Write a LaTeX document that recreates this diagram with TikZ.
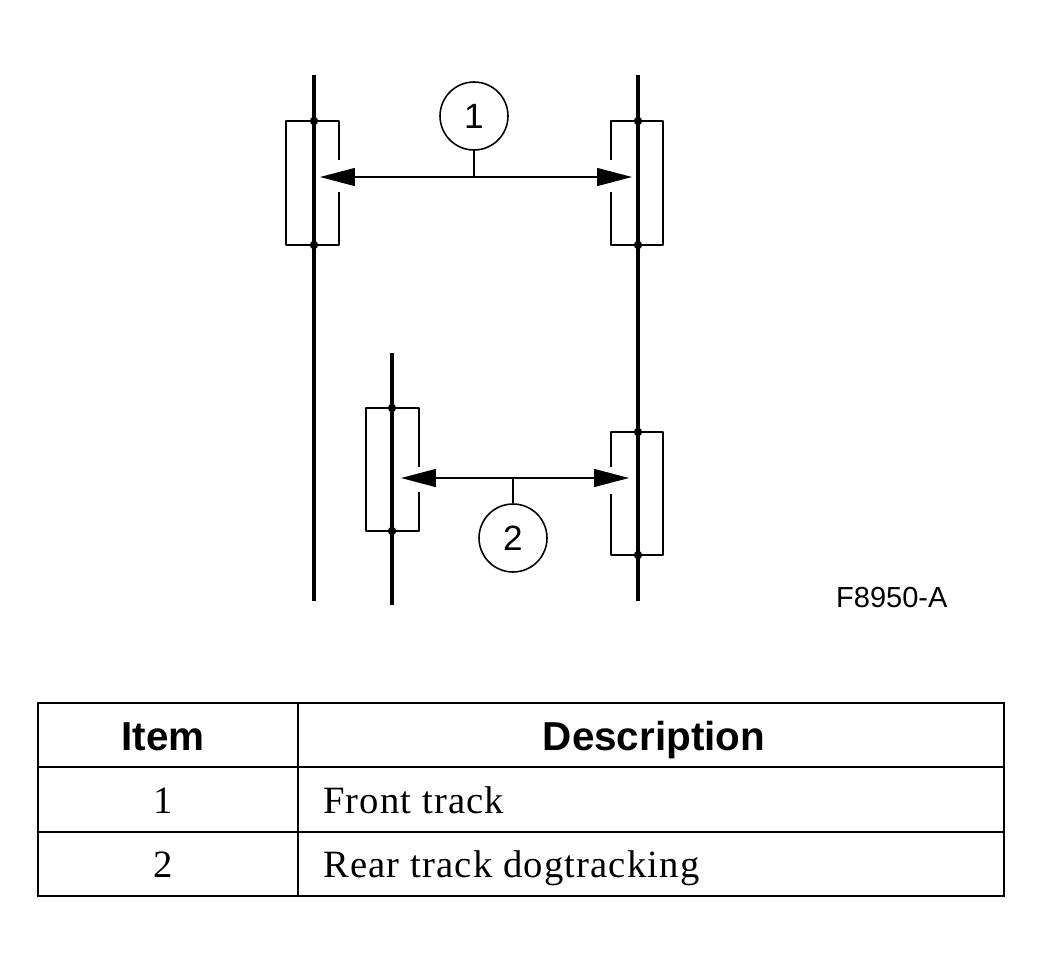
\documentclass[tikz,border=0pt]{standalone}
\usepackage{fontspec}
\setmainfont{Liberation Serif}
\setsansfont{Liberation Sans}
\newfontfamily\cellfont[LetterSpace=3]{Liberation Serif}
\usetikzlibrary{arrows.meta}

\begin{document}
\begin{tikzpicture}[x=0.02cm,y=-0.02cm,
		track/.style={line width=1.8pt},
		wheel/.style={line width=0.9pt,line join=round},
		grid/.style={line width=1.6pt},
		dimarrow/.style={line width=0.8pt,{Triangle[length=0.7cm,width=0.36cm]}-{Triangle[length=0.7cm,width=0.36cm]}},
		callout/.style={draw,circle,line width=0.9pt,minimum size=1.36cm,inner sep=0pt,font=\sffamily\fontsize{20}{20}\selectfont},
		head/.style={anchor=base,font=\sffamily\bfseries\fontsize{23}{23}\selectfont},
		cell/.style={anchor=base,font=\cellfont\fontsize{22}{22}\selectfont}]
				\useasboundingbox(0,0)rectangle(1044,974);
				% tracks
				\draw[track](314,75)--(314,601);
				\draw[track](638,75)--(638,601);
				\draw[track](392,353)--(392,605);
				% wheels
				\draw[wheel](339,160)--(339,121)--(286,121)--(286,245)--(339,245)--(339,192);
				\draw[wheel](611,160)--(611,121)--(663,121)--(663,245)--(611,245)--(611,192);
				\draw[wheel](419,467)--(419,408)--(366,408)--(366,531)--(419,531)--(419,492);
				\draw[wheel](611,467)--(611,432)--(663,432)--(663,555)--(611,555)--(611,494);
				\foreach \x/\y in {314/121,314/245,638/121,638/245,392/408,392/531,638/432,638/555}
					\fill(\x,\y)circle(2.4pt);
				% front track
				\coordinate(f1)at(320,177);
				\coordinate(f2)at(632,177);
				\draw[dimarrow](f1)--(f2);
				\node[callout](c1)at(474,116){1};
				\draw[wheel](c1)--(c1|-f1);
				% rear track
				\coordinate(r1)at(401,478);
				\coordinate(r2)at(629,478);
				\draw[dimarrow](r1)--(r2);
				\node[callout](c2)at(513,538){2};
				\draw[wheel](c2)--(c2|-r1);
				\node[anchor=base west,font=\sffamily\fontsize{16.5}{16.5}\selectfont](fig)at(830,607){F8950-A};
				% table
				\draw[grid](38,703)rectangle(1004,896);
				\draw[grid](298,703)--(298,896);
				\draw[grid](38,767)--(1004,767);
				\draw[grid](38,832)--(1004,832);
				\node[head](h1)at(163,750){Item};
				\node[head](h2)at(654,750){Description};
				\node[cell](n1)at(163,813){1};
				\node[cell,anchor=base west](d1)at(317,813){Front track};
				\node[cell](n2)at(163,877){2};
				\node[cell,anchor=base west](d2)at(317,877){Rear track dogtracking};
			\end{tikzpicture}
\end{document}
